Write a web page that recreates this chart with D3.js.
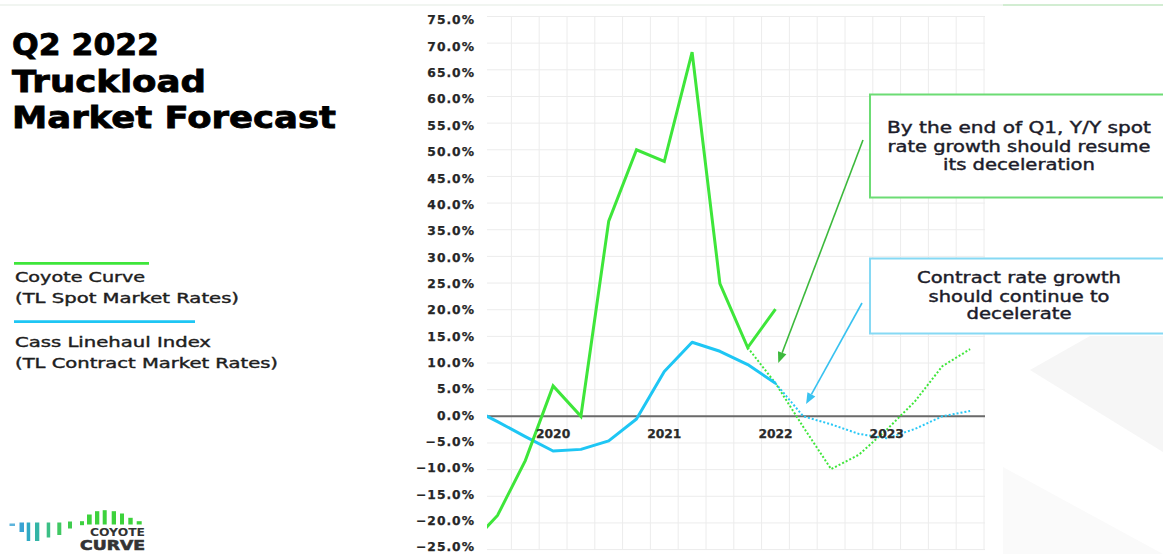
<!DOCTYPE html>
<html><head><meta charset="utf-8">
<script src="https://cdn.jsdelivr.net/npm/d3@7"></script>
<style>html,body{margin:0;padding:0;background:#fff;overflow:hidden}</style>
</head><body><svg id="chart" width="1163" height="554"></svg>
<script>
// ---------- data ----------
const quarters = ["2019 Q2","2019 Q3","2019 Q4","2020 Q1","2020 Q2","2020 Q3","2020 Q4",
  "2021 Q1","2021 Q2","2021 Q3","2021 Q4","2022 Q1","2022 Q2","2022 Q3","2022 Q4",
  "2023 Q1","2023 Q2","2023 Q3","2023 Q4"];
// Coyote Curve (TL spot), Y/Y %, actual 2019 Q2 -> 2022 Q1
const spotActual = [-24.2,-18.6,-8.3,5.7,0.0,36.6,50.0,47.8,68.3,24.9,12.9,20.1];
// Coyote Curve forecast, 2021 Q4 -> 2023 Q4
const spotForecast = [12.9,6.2,-2.0,-9.9,-7.2,-2.5,2.7,9.4,12.6];
// Cass Linehaul Index (TL contract), Y/Y %, actual 2019 Q2 -> 2022 Q1
const contractActual = [1.7,-1.0,-3.8,-6.5,-6.2,-4.6,-0.5,8.4,13.9,12.2,9.7,6.2];
// Cass forecast, 2022 Q1 -> 2023 Q4
const contractForecast = [6.2,0.0,-1.5,-3.3,-4.1,-2.4,0.0,1.0];
const yTicks = [-25,-20,-15,-10,-5,0,5,10,15,20,25,30,35,40,45,50,55,60,65,70,75];
const yearLabels = ["2020","2021","2022","2023"];
const yearQuarters = ["2020 Q1","2021 Q1","2022 Q1","2023 Q1"];
const titleLines = ["Q2 2022","Truckload","Market Forecast"];
const legendSpot = ["Coyote Curve","(TL Spot Market Rates)"];
const legendContract = ["Cass Linehaul Index","(TL Contract Market Rates)"];
const noteSpot = ["By the end of Q1, Y/Y spot","rate growth should resume","its deceleration"];
const noteContract = ["Contract rate growth","should continue to","decelerate"];

// ---------- setup ----------
const GREEN = "#3ee63a", BLUE = "#1ec6f4";
const svg = d3.select("#chart");
const plot = {left: 487, right: 985, top: 16.5, bottom: 549.6};

const idx = q => quarters.indexOf(q);
const x = d3.scaleLinear().domain([0, 18]).range([469.7, 970.1]);
const y = d3.scaleLinear().domain([-25, 75]).range([plot.bottom, plot.top]);
const yLab = d3.scaleLinear().domain([-25, 75]).range([547, 20]);

// background decorations
svg.append("line").attr("x1",0).attr("x2",1003).attr("y1",5).attr("y2",5)
  .attr("stroke","#e3ece3").attr("stroke-width",1.2);
svg.append("line").attr("x1",1003).attr("x2",1163).attr("y1",5).attr("y2",5)
  .attr("stroke","#a6dca6").attr("stroke-width",1.2);
svg.append("polygon").attr("points","1030,370 1090,336 1163,336 1163,452").attr("fill","#f6f6f6");
svg.append("polygon").attr("points","1003,467 1163,554 1003,554").attr("fill","#fafafa");

// grid
const grid = svg.append("g");
grid.selectAll("line.h").data(yTicks).join("line")
  .attr("x1", plot.left).attr("x2", plot.right)
  .attr("y1", d => y(d)).attr("y2", d => y(d))
  .attr("stroke", "#ececec").attr("stroke-width", 1);
grid.selectAll("line.v").data(d3.range(1, 19)).join("line")
  .attr("x1", d => x(d + 0.5)).attr("x2", d => x(d + 0.5))
  .attr("y1", plot.top).attr("y2", plot.bottom)
  .attr("stroke", "#ececec").attr("stroke-width", 1);

// y tick labels
svg.append("g").selectAll("text").data(yTicks).join("text")
  .attr("x", 475).attr("y", d => yLab(d)).attr("dy", "0.36em")
  .attr("text-anchor", "end")
  .attr("font-family", "DejaVu Sans").attr("font-weight", "bold")
  .attr("font-size", 12.3).attr("letter-spacing", "1px").attr("fill", "#262626")
  .attr("stroke", "#262626").attr("stroke-width", 0.25)
  .text(d => d3.format(".1f")(d) + "%");

// zero line
svg.append("line").attr("x1", plot.left).attr("x2", plot.right)
  .attr("y1", y(0)).attr("y2", y(0)).attr("stroke", "#6a6a6a").attr("stroke-width", 2);

// series
svg.append("clipPath").attr("id","clip").append("rect")
  .attr("x", plot.left).attr("y", 0).attr("width", plot.right - plot.left).attr("height", 554);
const lines = svg.append("g").attr("clip-path","url(#clip)");
const line = d3.line().x(d => x(d[0])).y(d => y(d[1]));
const pts = (arr, startQ) => arr.map((v, i) => [idx(startQ) + i, v]);

lines.append("path").datum(pts(spotForecast, "2021 Q4"))
  .attr("d", line).attr("fill","none").attr("stroke", GREEN)
  .attr("stroke-width", 2).attr("stroke-dasharray", "2,2");
lines.append("path").datum(pts(contractForecast, "2022 Q1"))
  .attr("d", line).attr("fill","none").attr("stroke", "#29c8f6")
  .attr("stroke-width", 2).attr("stroke-dasharray", "2,2");
lines.append("path").datum(pts(contractActual, "2019 Q2"))
  .attr("d", line).attr("fill","none").attr("stroke", BLUE)
  .attr("stroke-width", 3).attr("stroke-linejoin","round");
lines.append("path").datum(pts(spotActual, "2019 Q2"))
  .attr("d", line).attr("fill","none").attr("stroke", GREEN)
  .attr("stroke-width", 3).attr("stroke-linejoin","miter");

// year labels
svg.append("g").selectAll("text").data(yearLabels).join("text")
  .attr("x", (d, i) => x(idx(yearQuarters[i]))).attr("y", 437.5)
  .attr("text-anchor","middle")
  .attr("font-family","DejaVu Sans").attr("font-weight","bold")
  .attr("font-size", 12.3).attr("fill","#2a2a2a")
  .attr("stroke", "#2a2a2a").attr("stroke-width", 0.25).text(d => d);

// title
svg.append("g").selectAll("text").data(titleLines).join("text")
  .attr("x", 12).attr("y", (d, i) => [55, 91.7, 128.3][i])
  .attr("font-family","DejaVu Sans").attr("font-weight","bold").attr("font-size", 30)
  .attr("fill","#000").attr("stroke","#000").attr("stroke-width", 0.8)
  .attr("textLength", (d, i) => [147, 194, 324][i]).attr("lengthAdjust","spacingAndGlyphs")
  .text(d => d);

// legend
svg.append("line").attr("x1",14).attr("x2",149).attr("y1",263.3).attr("y2",263.3)
  .attr("stroke", GREEN).attr("stroke-width", 2.7);
svg.append("line").attr("x1",14).attr("x2",195).attr("y1",321.7).attr("y2",321.7)
  .attr("stroke", BLUE).attr("stroke-width", 2.7);
const legTxt = legendSpot.concat(legendContract);
svg.append("g").selectAll("text").data(legTxt).join("text")
  .attr("x", 15).attr("y", (d, i) => [282.3, 303.3, 346.7, 367.5][i])
  .attr("font-family","DejaVu Sans").attr("font-size", 14).attr("fill","#1e1e1e")
  .attr("stroke","#1e1e1e").attr("stroke-width", 0.4)
  .attr("textLength", (d, i) => [130, 224, 196, 263][i]).attr("lengthAdjust","spacingAndGlyphs")
  .text(d => d);

// annotation boxes
svg.append("rect").attr("x", 870).attr("y", 94.5).attr("width", 300).attr("height", 103)
  .attr("fill","#fff").attr("stroke","#6cdc74").attr("stroke-width", 2);
svg.append("rect").attr("x", 870).attr("y", 258.5).attr("width", 300).attr("height", 75)
  .attr("fill","#fff").attr("stroke","#86d9f4").attr("stroke-width", 2);
svg.append("g").selectAll("text").data(noteSpot).join("text")
  .attr("x", 1019).attr("y", (d, i) => [133.3, 151.7, 170][i]).attr("text-anchor","middle")
  .attr("font-family","DejaVu Sans").attr("font-size", 15).attr("fill","#1c1c2a")
  .attr("stroke","#1c1c2a").attr("stroke-width", 0.4)
  .attr("textLength", (d, i) => [264, 263, 152][i]).attr("lengthAdjust","spacingAndGlyphs")
  .text(d => d);
svg.append("g").selectAll("text").data(noteContract).join("text")
  .attr("x", 1019).attr("y", (d, i) => [283.3, 301.7, 319.3][i]).attr("text-anchor","middle")
  .attr("font-family","DejaVu Sans").attr("font-size", 15).attr("fill","#1c1c2a")
  .attr("stroke","#1c1c2a").attr("stroke-width", 0.4)
  .attr("textLength", (d, i) => [204, 181, 105][i]).attr("lengthAdjust","spacingAndGlyphs")
  .text(d => d);

// arrows
function arrow(x1, y1, x2, y2, color) {
  const ang = Math.atan2(y2 - y1, x2 - x1), L = 11, W = 4.5;
  const bx = x2 - L * Math.cos(ang), by = y2 - L * Math.sin(ang);
  svg.append("line").attr("x1", x1).attr("y1", y1).attr("x2", bx).attr("y2", by)
    .attr("stroke", color).attr("stroke-width", 1.6);
  const p = [[x2, y2],
    [bx + W * Math.sin(ang), by - W * Math.cos(ang)],
    [bx - W * Math.sin(ang), by + W * Math.cos(ang)]];
  svg.append("polygon").attr("points", p.map(d => d.join(",")).join(" ")).attr("fill", color);
}
arrow(863, 140, x(11.1), y(10.0), "#3cb93c");
arrow(862, 303, x(12.1), y(2.3), "#38c2f0");

// logo
const logo = svg.append("g").attr("transform", "translate(0,-1.5)");
const logoBars = [
  [9.5,525,5.5,2.5,"#5db4dc"],[19.5,524,4.5,9.5,"#3aa3d3"],[26.7,524,3.5,18.5,"#2fa9c4"],
  [35,524,4.3,18.5,"#34b5a6"],[46.7,524,3.5,15,"#3cbf86"],[57.3,524,4,12.5,"#40c862"],
  [68,523,4,7,"#3fcc4e"],[80,522.7,4,4,"#3dd040"],[87,516,4.7,10,"#3dd23c"],
  [95,512.7,4.3,13.3,"#3dd23c"],[102.7,511.7,4,14.3,"#3dd23c"],[111.7,512.7,4.3,13.3,"#3dd23c"],
  [120,515,4,11,"#3dd23c"],[128.3,519.3,4.4,6.7,"#3dd23c"],[136.7,522.7,5,3.3,"#3dd23c"]];
logo.selectAll("rect").data(logoBars).join("rect")
  .attr("x", d => d[0]).attr("y", d => d[1]).attr("width", d => d[2]).attr("height", d => d[3])
  .attr("fill", d => d[4]);
logo.append("text").attr("x", 90).attr("y", 537).attr("font-family","DejaVu Sans")
  .attr("font-weight","bold").attr("font-size", 10).attr("fill","#333")
  .attr("textLength", 55).attr("lengthAdjust","spacingAndGlyphs").text("COYOTE");
logo.append("text").attr("x", 80).attr("y", 551.8).attr("font-family","DejaVu Sans")
  .attr("font-weight","bold").attr("font-size", 13.5).attr("fill","#333")
  .attr("stroke","#333").attr("stroke-width", 0.6)
  .attr("textLength", 65).attr("lengthAdjust","spacingAndGlyphs").text("CURVE");
</script></body></html>
